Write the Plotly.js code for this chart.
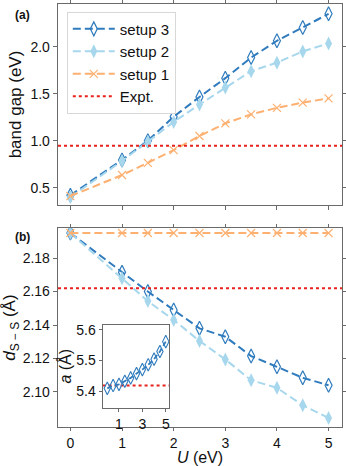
<!DOCTYPE html>
<html>
<head>
<meta charset="utf-8">
<script src="https://cdn.plot.ly/plotly-3.0.1.min.js"></script>
<style>
  html, body { margin: 0; padding: 0; background: #fff; }
  #plot { width: 346px; height: 466px; }
</style>
</head>
<body>
<div id="plot"></div>
<script>
// U values (eV)
const U = [0, 1, 1.5, 2, 2.5, 3, 3.5, 4, 4.5, 5];
const uInset = [0, 0.5, 1, 1.5, 2, 2.5, 3, 3.5, 4, 4.5, 5];

// (a) band gap (eV)
const gap3 = [0.42, 0.795, 1.0, 1.255, 1.465, 1.665, 1.884, 2.063, 2.205, 2.35];
const gap2 = [0.40, 0.785, 0.99, 1.20, 1.385, 1.565, 1.74, 1.83, 1.95, 2.035];
const gap1 = [0.41, 0.635, 0.765, 0.90, 1.05, 1.185, 1.28, 1.35, 1.405, 1.45];
const gapExpt = 0.947;

// (b) S-S distance (Å)
const dss3 = [2.195, 2.1715, 2.160, 2.149, 2.138, 2.133, 2.1214, 2.115, 2.1084, 2.104];
const dss2 = [2.195, 2.168, 2.1543, 2.143, 2.1305, 2.1194, 2.107, 2.1024, 2.092, 2.0844];
const dss1 = [2.195, 2.195, 2.195, 2.195, 2.195, 2.195, 2.195, 2.195, 2.195, 2.195];
const dssExpt = 2.162;

// inset: lattice constant a (Å)
const lat3 = [5.409, 5.418, 5.422, 5.432, 5.443, 5.457, 5.47, 5.486, 5.504, 5.529, 5.561];
const latExpt = 5.418;

const c3 = '#2f7bbd';
const c2 = '#a7d7ec';
const c1 = '#fdb070';
const cEx = '#e8221e';
const font = 'Liberation Sans, Arial, sans-serif';
const dash = '8px,4px';

const xr = [-0.24, 5.26];
const xrIn = [-0.4, 5.28];

function s3(x, y, xa, ya, leg) {
  return {x: x, y: y, xaxis: xa, yaxis: ya, name: 'setup 3', showlegend: leg,
    mode: 'lines+markers', line: {color: c3, width: 2, dash: dash},
    marker: {symbol: 'diamond-tall-open', size: 10, color: c3, line: {width: 1.2, color: c3}}};
}
function s2(x, y, xa, ya, leg) {
  return {x: x, y: y, xaxis: xa, yaxis: ya, name: 'setup 2', showlegend: leg,
    mode: 'lines+markers', line: {color: c2, width: 2, dash: dash},
    marker: {symbol: 'diamond-tall', size: 10, color: c2}};
}
function s1(x, y, xa, ya, leg) {
  return {x: x, y: y, xaxis: xa, yaxis: ya, name: 'setup 1', showlegend: leg,
    mode: 'lines+markers', line: {color: c1, width: 2, dash: dash},
    marker: {symbol: 'x-thin-open', size: 8, color: c1, line: {width: 1.2, color: c1}}};
}
function ex(range, v, xa, ya, leg) {
  return {x: range, y: [v, v], xaxis: xa, yaxis: ya, name: 'Expt.', showlegend: leg,
    mode: 'lines', line: {color: cEx, width: 2, dash: 'dot'}};
}

const data = [
  s3(U, gap3, 'x', 'y', true),
  s2(U, gap2, 'x', 'y', true),
  s1(U, gap1, 'x', 'y', true),
  ex(xr, gapExpt, 'x', 'y', true),
  s3(U, dss3, 'x2', 'y2', false),
  s2(U, dss2, 'x2', 'y2', false),
  s1(U, dss1, 'x2', 'y2', false),
  ex(xr, dssExpt, 'x2', 'y2', false),
  ex(xrIn, latExpt, 'x3', 'y3', false),
  Object.assign(s3(uInset, lat3, 'x3', 'y3', false),
    {line: {color: c3, width: 1.8, dash: '5px,3px'},
     marker: {symbol: 'diamond-tall-open', size: 9, color: c3, line: {width: 1.1, color: c3}}})
];

const ax = {
  showline: true, linecolor: '#6a6a6a', linewidth: 1.3, mirror: 'ticks',
  ticks: 'outside', ticklen: 4, tickwidth: 1, tickcolor: '#6a6a6a',
  showgrid: false, zeroline: false,
  tickfont: {family: font, size: 14, color: '#111'}
};

const layout = {
  width: 346, height: 466,
  margin: {l: 58, r: 4, t: 4, b: 39},
  paper_bgcolor: '#fff', plot_bgcolor: 'rgba(0,0,0,0)',
  font: {family: font, color: '#111'},
  showlegend: true,
  legend: {
    x: 0.031, y: 0.982, xanchor: 'left', yanchor: 'top',
    bgcolor: '#fff', bordercolor: '#d8d8d8', borderwidth: 1, itemwidth: 42,
    font: {family: font, size: 15, color: '#111'}, tracegroupgap: 0
  },
  xaxis: Object.assign({}, ax, {domain: [0, 1], anchor: 'y', range: xr,
    tickvals: [0, 1, 2, 3, 4, 5], showticklabels: false}),
  yaxis: Object.assign({}, ax, {domain: [0.5248, 1], anchor: 'x', range: [0.316, 2.454],
    tickvals: [0.5, 1.0, 1.5, 2.0], tickformat: '.1f',
    title: {text: 'band gap (eV)', font: {family: font, size: 17}, standoff: 4}}),
  xaxis2: Object.assign({}, ax, {domain: [0, 1], anchor: 'y2', range: xr,
    tickvals: [0, 1, 2, 3, 4, 5], ticklen: 3,
    title: {text: '<i>U</i> (eV)', font: {family: font, size: 16}, standoff: 0}}),
  yaxis2: Object.assign({}, ax, {domain: [0, 0.4704], anchor: 'x2', range: [2.079, 2.198],
    tickvals: [2.10, 2.12, 2.14, 2.16, 2.18], tickformat: '.2f',
    title: {text: '<i>d</i><sub>S − S</sub> (Å)', font: {family: font, size: 17}, standoff: 4}}),
  xaxis3: Object.assign({}, ax, {domain: [0.157, 0.391], anchor: 'y3', range: xrIn,
    tickvals: [1, 3, 5], mirror: true, ticklen: 3, linewidth: 1,
    tickfont: {family: font, size: 14, color: '#111'}}),
  yaxis3: Object.assign({}, ax, {domain: [0.0456, 0.2418], anchor: 'x3', range: [5.346, 5.616],
    tickvals: [5.4, 5.5, 5.6], tickformat: '.1f', mirror: true, ticklen: 3, linewidth: 1,
    tickfont: {family: font, size: 14, color: '#111'},
    title: {text: '<i>a</i> (Å)', font: {family: font, size: 16}, standoff: 0}}),
  annotations: [
    {text: '<b>(a)</b>', xref: 'paper', yref: 'paper', x: -0.16, y: 0.974,
     xanchor: 'left', yanchor: 'middle', showarrow: false, font: {family: font, size: 12}},
    {text: '<b>(b)</b>', xref: 'paper', yref: 'paper', x: -0.16, y: 0.45,
     xanchor: 'left', yanchor: 'middle', showarrow: false, font: {family: font, size: 12}}
  ]
};

Plotly.newPlot('plot', data, layout, {displayModeBar: false, staticPlot: true});
</script>
</body>
</html>
